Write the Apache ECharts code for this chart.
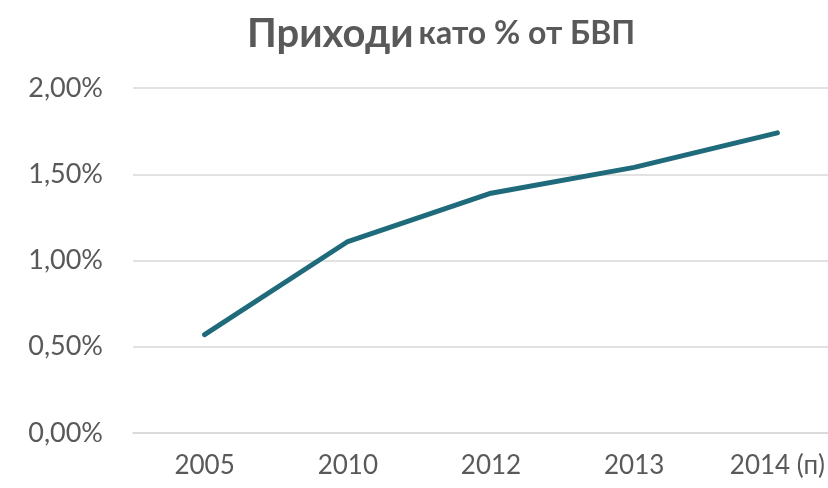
<!DOCTYPE html>
<html>
<head>
<meta charset="utf-8">
<script src="https://cdn.jsdelivr.net/npm/echarts@6/dist/echarts.min.js"></script>
<style>html,body{margin:0;padding:0;background:#fff}#c{width:828px;height:488px}</style>
</head>
<body>
<div id="c"></div>
<script>
const categories = ['2005', '2010', '2012', '2013', '2014 (п)'];
const revenueShare = [0.57, 1.11, 1.39, 1.54, 1.74];
const yTicks = { min: 0, max: 2, interval: 0.5 };
const titleMain = 'Приходи';
const titleRest = 'като % от БВП';

const font = 'Lato, "Open Sans", sans-serif';
const chart = echarts.init(document.getElementById('c'), null, { renderer: 'canvas' });
chart.setOption({
  animation: false,
  backgroundColor: '#ffffff',
  title: {
    text: '{a|' + titleMain + '} {b|' + titleRest + '}',
    left: 242,
    top: 9,
    textStyle: {
      rich: {
        a: { fontSize: 40, fontWeight: 'bold', color: '#595959', fontFamily: font },
        b: { fontSize: 32, fontWeight: 'bold', color: '#595959', fontFamily: font }
      }
    }
  },
  grid: { left: 133, right: -21, top: 88, bottom: 55, containLabel: false, outerBoundsMode: 'none' },
  xAxis: {
    type: 'category',
    data: categories,
    boundaryGap: true,
    axisLine: { show: true, lineStyle: { color: '#d9d9d9', width: 1.5 } },
    axisTick: { show: false },
    axisLabel: { color: '#595959', fontSize: 26, fontFamily: font, margin: 20 }
  },
  yAxis: {
    type: 'value',
    min: yTicks.min,
    max: yTicks.max,
    interval: yTicks.interval,
    axisLine: { show: false },
    axisTick: { show: false },
    splitLine: { lineStyle: { color: '#d9d9d9', width: 1.5 } },
    axisLabel: {
      color: '#595959', fontSize: 27, fontFamily: font, margin: 30,
      formatter: v => v.toFixed(2).replace('.', ',') + '%'
    }
  },
  series: [{
    type: 'line',
    data: revenueShare,
    symbol: 'none',
    lineStyle: { color: '#1f6b7b', width: 5, cap: 'round', join: 'round' }
  }]
});
</script>
</body>
</html>
